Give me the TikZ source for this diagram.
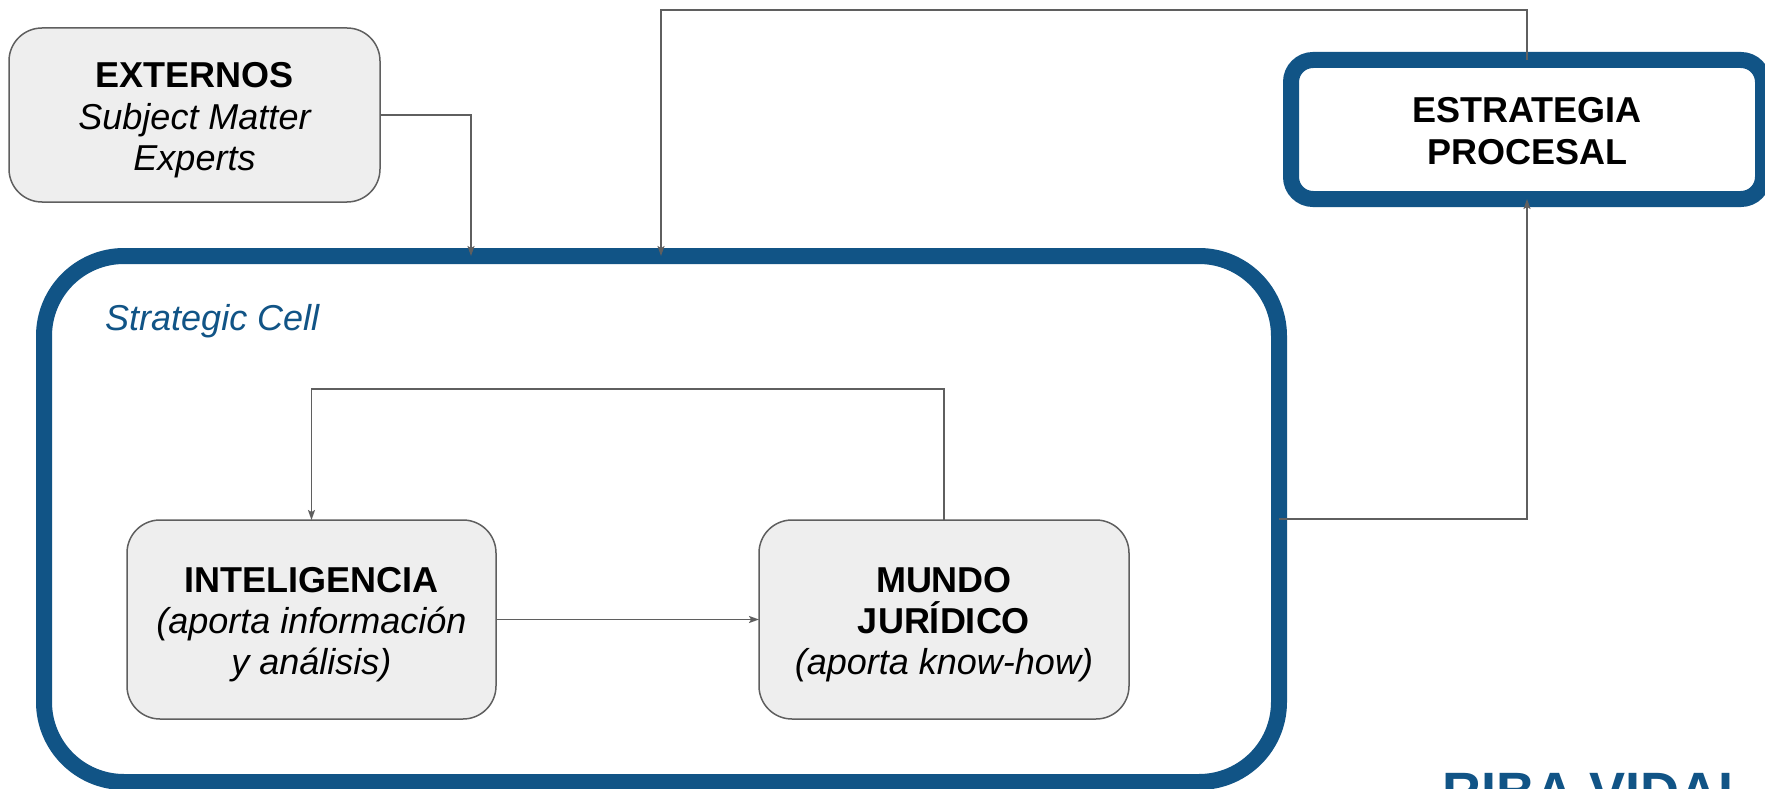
\documentclass[tikz,border=0pt]{standalone}
\usepackage{fontspec}
\setmainfont{Liberation Sans}
\usetikzlibrary{arrows.meta,calc}
\definecolor{cellblue}{RGB}{17,84,134}
\definecolor{boxfill}{RGB}{238,238,238}
\definecolor{linegray}{RGB}{95,95,95}
\newcommand\topstrut{\rule{0pt}{36pt}}
\newcommand\botstrut{\rule[-8pt]{0pt}{0pt}}
\begin{document}
\begin{tikzpicture}[x=1pt,y=-1pt,
  txt/.style={font=\fontsize{36}{41.4}\selectfont, align=center},
  graybox/.style={txt, draw=linegray, line width=1.5pt, fill=boxfill, rounded corners=33pt, outer sep=0pt, inner sep=0pt},
  bluebox/.style={draw=cellblue, line width=16pt, fill=white, outer sep=0pt, inner sep=0pt},
  arr/.style={draw=linegray, line width=1.5pt, -{Stealth[length=10pt,width=7pt,inset=2pt]}},
  conn/.style={draw=linegray, line width=1.5pt}
]
\useasboundingbox (0,0) rectangle (1765,789);
\clip (0,0) rectangle (1765,789);
\fill[white] (0,0) rectangle (1765,789);

% big strategic cell
\node[bluebox, rounded corners=80pt, minimum width=1235pt, minimum height=526pt] (cell) at (661.5,519) {};
\node[anchor=base west, inner sep=0pt, text=cellblue, font=\fontsize{36}{41.4}\selectfont\itshape] (celllabel) at (105,330) {Strategic Cell};

% estrategia procesal
\node[bluebox, txt, rounded corners=22pt, minimum width=472pt, minimum height=139pt] (estr) at (1527,129.5) {\topstrut\bfseries ESTRATEGIA\\\bfseries PROCESAL\botstrut};

% externos
\node[graybox, minimum width=371pt, minimum height=174pt] (ext) at (194.5,115) {\topstrut\bfseries EXTERNOS\\\itshape Subject Matter\\\itshape Experts\botstrut};

% inner boxes
\node[graybox, minimum width=369pt, minimum height=199pt] (int) at (311.5,619.5) {\topstrut\bfseries INTELIGENCIA\\\itshape (aporta información\\\itshape y análisis)\botstrut};
\node[graybox, minimum width=370pt, minimum height=199pt] (mundo) at (944,619.5) {\topstrut\bfseries MUNDO\\\bfseries JURÍDICO\\\itshape (aporta know-how)\botstrut};

% logo text
\node[anchor=base west, inner sep=0pt, text=cellblue, font=\fontsize{54}{55}\selectfont\bfseries] (logo) at (1442,810.5) {RIBA VIDAL};

% connectors
\coordinate (extin) at (471,256);
\draw[arr] (ext.east) -| (extin);

\coordinate (topturn) at (661,10);
\draw[arr] (estr.north) |- (topturn) -- (topturn |- cell.north);

\draw[arr] (cell.east) -| (estr.south);

\draw[arr] (int.east) -- (mundo.west);

\coordinate (loopturn) at (628,389);
\draw[arr] (mundo.north) |- (loopturn) -| (int.north);
\end{tikzpicture}
\end{document}
